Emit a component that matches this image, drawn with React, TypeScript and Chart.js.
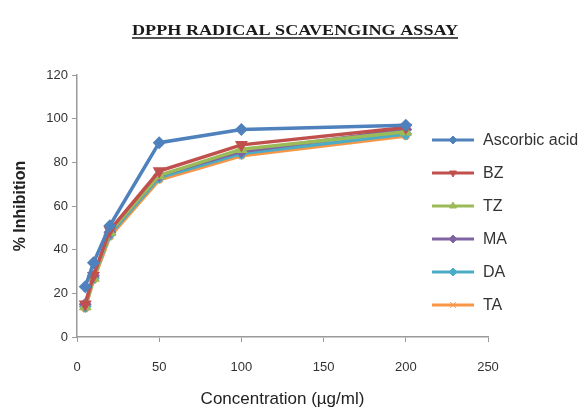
import React, { useEffect, useRef } from "react";
import { Chart, registerables } from "chart.js";
import { drawPoint } from "chart.js/helpers";

Chart.register(...registerables);

const concentrations = [5, 10, 20, 50, 100, 200];
const seriesNames = ["Ascorbic acid", "BZ", "TZ", "MA", "DA", "TA"];
const ascorbicAcid = [23, 34, 51, 89, 95, 97];
const bz = [15, 28, 49, 76, 88, 96];
const tz = [14, 27, 48, 74, 86, 94];
const ma = [15, 28, 48, 74, 85, 95];
const da = [14, 27, 47, 73, 84, 93];
const ta = [13, 26, 46, 72, 83, 92];
const seriesValues = [ascorbicAcid, bz, tz, ma, da, ta];
const seriesColors = ["#4F81BD", "#C0504D", "#9BBB59", "#8064A2", "#4BACC6", "#F79646"];
const seriesMarkers = ["rectRot", "triangle", "triangle", "rectRot", "rectRot", "crossRot"];
const xTicks = [0, 50, 100, 150, 200, 250];
const yTicks = [0, 20, 40, 60, 80, 100, 120];
const titleText = "DPPH RADICAL SCAVENGING ASSAY";
const xTitle = "Concentration (µg/ml)";
const yTitle = "% Inhibition";

const FONT = "'Liberation Sans', Arial, sans-serif";

const titlePlugin = {
  id: "underlinedTitle",
  afterDraw(chart: any) {
    const ctx = chart.ctx;
    ctx.save();
    ctx.font = "bold 14px 'Liberation Serif', serif";
    ctx.fillStyle = "#1a1a1a";
    ctx.textAlign = "center";
    ctx.textBaseline = "alphabetic";
    const cx = 295;
    const y = 35;
    const targetW = 326;
    const w = ctx.measureText(titleText).width;
    const sx = targetW / w;
    ctx.translate(cx, y);
    ctx.scale(sx, 1);
    ctx.fillText(titleText, 0, 0);
    ctx.strokeStyle = "#1a1a1a";
    ctx.lineWidth = 1.3;
    ctx.beginPath();
    ctx.moveTo(-w / 2, 3);
    ctx.lineTo(w / 2, 3);
    ctx.stroke();
    ctx.restore();
  },
};

const legendPlugin = {
  id: "sideLegend",
  afterDraw(chart: any) {
    const ctx = chart.ctx;
    ctx.save();
    const x0 = 432;
    const x1 = 474;
    const startY = 140;
    const step = 33;
    chart.data.datasets.forEach((ds: any, i: number) => {
      const y = startY + i * step;
      ctx.strokeStyle = ds.borderColor;
      ctx.fillStyle = ds.borderColor;
      ctx.lineWidth = 3;
      ctx.beginPath();
      ctx.moveTo(x0, y);
      ctx.lineTo(x1, y);
      ctx.stroke();
      ctx.lineWidth = 1;
      drawPoint(
        ctx,
        {
          pointStyle: ds.pointStyle,
          radius: 4,
          borderWidth: 1,
          rotation: ds.pointRotation || 0,
        } as any,
        (x0 + x1) / 2,
        y
      );
      ctx.fillStyle = "#333";
      ctx.font = `16px ${FONT}`;
      ctx.textAlign = "left";
      ctx.textBaseline = "middle";
      ctx.fillText(ds.label, x1 + 9, y + 1);
    });
    ctx.restore();
  },
};

export default function App() {
  const ref = useRef<HTMLCanvasElement | null>(null);

  useEffect(() => {
    document.body.style.margin = "0";
    const canvas = ref.current;
    if (!canvas) return;
    const datasets = seriesNames.map((name, i) => ({
      label: name,
      data: concentrations.map((c, j) => ({ x: c, y: seriesValues[i][j] })),
      borderColor: seriesColors[i],
      backgroundColor: seriesColors[i],
      pointBackgroundColor: seriesColors[i],
      pointBorderColor: seriesColors[i],
      borderWidth: 3.5,
      pointStyle: seriesMarkers[i],
      pointRotation: i === 1 ? 180 : 0,
      pointRadius: 4,
      tension: 0,
      fill: false,
    }));
    const chart = new Chart(canvas, {
      type: "line",
      data: { datasets } as any,
      options: {
        animation: false,
        responsive: false,
        layout: { padding: { top: 75, right: 97, left: 0, bottom: 0 } },
        plugins: {
          legend: { display: false },
          tooltip: { enabled: false },
        },
        scales: {
          x: {
            type: "linear",
            min: 0,
            max: 250,
            afterFit: (s: any) => {
              s.height = 76;
            },
            afterBuildTicks: (s: any) => {
              s.ticks = xTicks.map((v) => ({ value: v }));
            },
            grid: {
              display: true,
              drawOnChartArea: false,
              drawTicks: true,
              tickLength: 5,
              color: "#9a9a9a",
            },
            border: { display: true, color: "#9a9a9a", width: 1.5 },
            ticks: {
              color: "#333",
              font: { size: 13, family: FONT },
              padding: 18,
              maxRotation: 0,
            },
            title: {
              display: true,
              text: xTitle,
              color: "#222",
              font: { size: 17, family: FONT },
              padding: { top: 0, bottom: 3 },
            },
          },
          y: {
            type: "linear",
            min: 0,
            max: 120,
            afterFit: (s: any) => {
              s.width = 77;
            },
            afterBuildTicks: (s: any) => {
              s.ticks = yTicks.map((v) => ({ value: v }));
            },
            grid: {
              display: true,
              drawOnChartArea: false,
              drawTicks: true,
              tickLength: 5,
              color: "#9a9a9a",
            },
            border: { display: true, color: "#9a9a9a", width: 1.5 },
            ticks: {
              color: "#333",
              font: { size: 13, family: FONT },
              padding: 4,
            },
            title: {
              display: true,
              text: yTitle,
              color: "#222",
              font: { size: 16, family: FONT, weight: "bold" },
              padding: { top: 11, bottom: 0 },
            },
          },
        },
      } as any,
      plugins: [titlePlugin, legendPlugin],
    });
    return () => chart.destroy();
  }, []);

  return (
    <div style={{ width: 585, height: 413, background: "#fff" }}>
      <canvas ref={ref} width={585} height={413} />
    </div>
  );
}
